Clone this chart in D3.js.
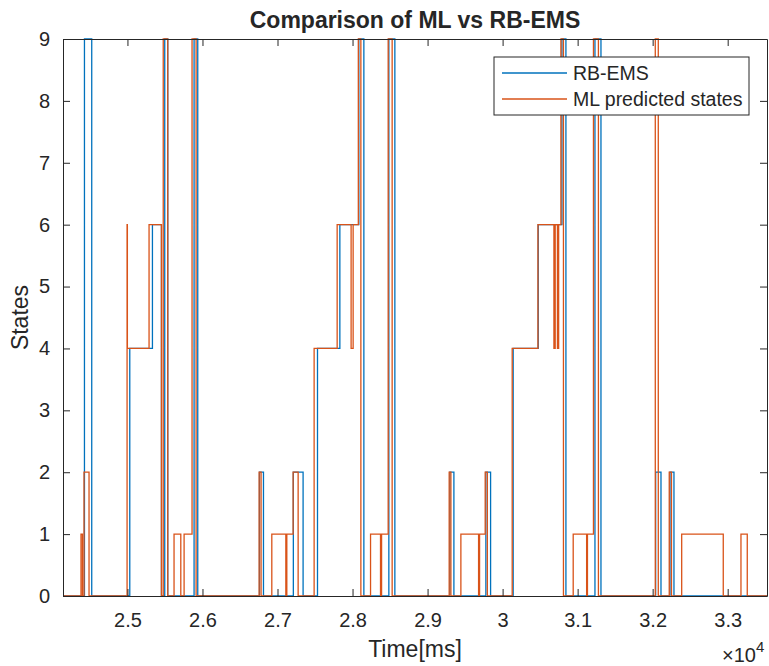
<!DOCTYPE html>
<html>
<head>
<meta charset="utf-8">
<script src="https://cdn.jsdelivr.net/npm/d3@7"></script>
<style>
  body { margin: 0; background: #fff; }
  text { font-family: "Liberation Sans", Arial, sans-serif; fill: #262626; }
</style>
</head>
<body>
<div id="chart"></div>
<script>
// x range of the axes (ms)
const timeDomain = [24141, 33524];
const stateDomain = [0, 9];

const xTickValues = [25000, 26000, 27000, 28000, 29000, 30000, 31000, 32000, 33000];
const xTickLabels = ["2.5", "2.6", "2.7", "2.8", "2.9", "3", "3.1", "3.2", "3.3"];
const yTickValues = [0, 1, 2, 3, 4, 5, 6, 7, 8, 9];

// RB-EMS: time of each change, new state
const rbTimes = [24427, 24524, 25031, 25333, 25453, 25497, 25537, 25888, 25937,
  26760, 26813, 27211, 27341, 27533, 27831, 28084, 28151, 28484, 28564,
  29297, 29351, 29777, 29840, 30141, 30475, 30791, 30844, 31231, 31311,
  32040, 32111, 32231, 32284];
const rbStates = [9, 0, 4, 6, 0, 9, 0, 9, 0,
  2, 0, 2, 0, 4, 6, 9, 0, 9, 0,
  2, 0, 2, 0, 4, 6, 9, 0, 9, 0,
  2, 0, 2, 0];

// ML predicted states: time of each change, new state
const mlTimes = [24381, 24400, 24421, 24488, 24995, 24999, 25288, 25453, 25477, 25537,
  25621, 25711, 25755, 25861, 25915,
  26755, 26781, 26924, 27111, 27124, 27208, 27275, 27488, 27795, 27981, 28008,
  28077, 28111, 28240, 28373, 28387, 28475, 28528,
  29288, 29311, 29444, 29680, 29693, 29768, 29797, 30128, 30471, 30684, 30701,
  30731, 30747, 30777, 30811, 30941, 31120, 31131, 31211, 31277,
  32035, 32075, 32221, 32251, 32387, 32941, 33177, 33261];
const mlStates = [1, 0, 2, 0, 6, 4, 6, 0, 9, 0,
  1, 0, 1, 9, 0,
  2, 0, 1, 0, 1, 2, 0, 4, 6, 4, 6,
  9, 0, 1, 0, 1, 9, 0,
  2, 0, 1, 0, 1, 2, 0, 4, 6, 4, 6,
  4, 6, 9, 0, 1, 0, 1, 9, 0,
  9, 0, 2, 0, 1, 0, 1, 0];

const seriesNames = ["RB-EMS", "ML predicted states"];
const seriesColors = ["#0072BD", "#D95319"];

const width = 769, height = 666;
const margin = { top: 39, right: 2, bottom: 70, left: 63 };

const svg = d3.select("#chart").append("svg")
  .attr("width", width)
  .attr("height", height);

const x = d3.scaleLinear()
  .domain(timeDomain)
  .range([margin.left, width - margin.right]);

const y = d3.scaleLinear()
  .domain(stateDomain)
  .range([height - margin.bottom, margin.top]);

svg.append("clipPath").attr("id", "plot")
  .append("rect")
  .attr("x", margin.left).attr("y", margin.top - 1)
  .attr("width", x.range()[1] - margin.left)
  .attr("height", y(0) - margin.top + 2);

// build stair points from change lists
function stairs(times, states) {
  const pts = [[timeDomain[0], 0]];
  times.forEach((t, i) => pts.push([t, states[i]]));
  pts.push([timeDomain[1], states[states.length - 1]]);
  return pts;
}

const line = d3.line()
  .x(d => x(d[0]))
  .y(d => y(d[1]))
  .curve(d3.curveStepAfter);

const lines = svg.append("g").attr("clip-path", "url(#plot)");
[stairs(rbTimes, rbStates), stairs(mlTimes, mlStates)].forEach((pts, i) => {
  lines.append("path")
    .datum(pts)
    .attr("fill", "none")
    .attr("stroke", seriesColors[i])
    .attr("stroke-width", 1.3)
    .attr("d", line);
});

// axes, ticks pointing inward like MATLAB
const tickLen = 7;
const axisColor = "#262626";

const xBottom = svg.append("g")
  .attr("transform", `translate(0,${y(0)})`)
  .call(d3.axisBottom(x).tickValues(xTickValues)
    .tickFormat((d, i) => xTickLabels[i])
    .tickSizeInner(-tickLen).tickSizeOuter(0).tickPadding(17));
const xTop = svg.append("g")
  .attr("transform", `translate(0,${y(9)})`)
  .call(d3.axisTop(x).tickValues(xTickValues).tickFormat("")
    .tickSizeInner(-tickLen).tickSizeOuter(0));
const yLeft = svg.append("g")
  .attr("transform", `translate(${x.range()[0]},0)`)
  .call(d3.axisLeft(y).tickValues(yTickValues).tickFormat(d3.format("d"))
    .tickSizeInner(-tickLen).tickSizeOuter(0).tickPadding(13));
const yRight = svg.append("g")
  .attr("transform", `translate(${x.range()[1]},0)`)
  .call(d3.axisRight(y).tickValues(yTickValues).tickFormat("")
    .tickSizeInner(-tickLen).tickSizeOuter(0));

[xBottom, xTop, yLeft, yRight].forEach(g => {
  g.select(".domain").attr("stroke", axisColor).attr("stroke-width", 1);
  g.selectAll(".tick line").attr("stroke", axisColor);
  g.selectAll(".tick text").attr("font-size", 20).attr("fill", axisColor)
    .style("font-family", "'Liberation Sans', Arial, sans-serif");
});

// title and labels
svg.append("text")
  .attr("x", (x.range()[0] + x.range()[1]) / 2)
  .attr("y", 28)
  .attr("text-anchor", "middle")
  .attr("font-size", 23)
  .attr("font-weight", "bold")
  .attr("fill", "#000")
  .text("Comparison of ML vs RB-EMS");

svg.append("text")
  .attr("x", (x.range()[0] + x.range()[1]) / 2)
  .attr("y", 657)
  .attr("text-anchor", "middle")
  .attr("font-size", 23)
  .text("Time[ms]");

svg.append("text")
  .attr("transform", `translate(28,${(y(0) + y(9)) / 2}) rotate(-90)`)
  .attr("text-anchor", "middle")
  .attr("font-size", 23)
  .text("States");

const expo = svg.append("text")
  .attr("x", 722)
  .attr("y", 662)
  .attr("font-size", 20);
expo.append("tspan").text("\u00d710");
expo.append("tspan").attr("dy", -10).attr("font-size", 15).text("4");

// legend
const lg = svg.append("g").attr("transform", "translate(494,57)");
lg.append("rect")
  .attr("width", 255).attr("height", 58)
  .attr("fill", "#fff").attr("stroke", axisColor).attr("stroke-width", 1);
seriesNames.forEach((name, i) => {
  const ly = 16 + i * 26;
  lg.append("line")
    .attr("x1", 8).attr("x2", 73)
    .attr("y1", ly).attr("y2", ly)
    .attr("stroke", seriesColors[i]).attr("stroke-width", 1.3);
  lg.append("text")
    .attr("x", 79).attr("y", ly + 7)
    .attr("font-size", 19.5)
    .attr("fill", "#000")
    .text(name);
});
</script>
</body>
</html>
